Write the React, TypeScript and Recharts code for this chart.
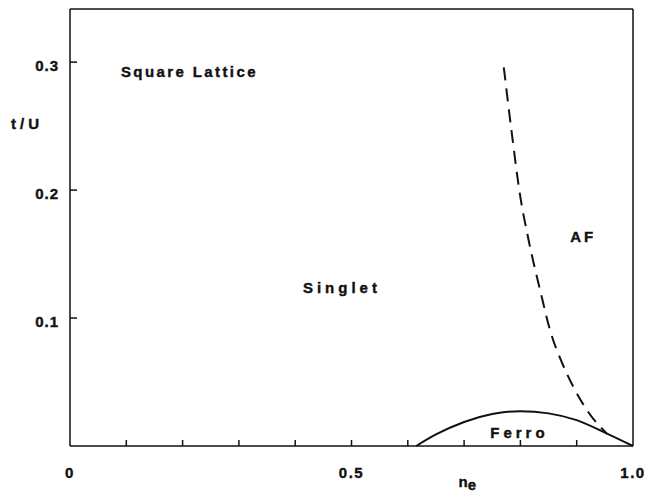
import React from 'react';
import { LineChart, Line, XAxis, YAxis, ReferenceDot } from 'recharts';

// antiferromagnetic boundary (dashed)
const afN = [0.7705, 0.786, 0.798, 0.815, 0.836, 0.853, 0.874, 0.8955, 0.923, 0.954];
const afT = [0.2958, 0.24, 0.2, 0.16, 0.12, 0.09, 0.065, 0.045, 0.025, 0.0095];

// ferromagnetic dome (solid)
const ferroN = [0.615, 0.65, 0.7, 0.75, 0.8, 0.85, 0.9, 0.95, 1.0];
const ferroT = [0, 0.009, 0.0188, 0.025, 0.0272, 0.0255, 0.0202, 0.0105, 0];

const xTicks = [0, 0.1, 0.2, 0.3, 0.4, 0.5, 0.6, 0.7, 0.8, 0.9, 1.0];
const xLabels: Record<string, string> = { '0': '0', '0.5': '0.5', '1': '1.0' };
const yTicks = [0.1, 0.2, 0.3];

const regions = [
  { text: 'Square Lattice', n: 0.21, t: 0.2927, spacing: 2.4 },
  { text: 'Singlet', n: 0.4794, t: 0.1238, spacing: 4 },
  { text: 'AF', n: 0.909, t: 0.1637, spacing: 3 },
  { text: 'Ferro', n: 0.7947, t: 0.0107, spacing: 4 },
];

const afData = afN.map((n, i) => ({ n, t: afT[i] }));
const ferroData = ferroN.map((n, i) => ({ n, t: ferroT[i] }));

const FONT = '"Liberation Sans", Arial, sans-serif';
const INK = '#111';

// heavy bold lettering used for every label
const textStyle = {
  fontFamily: FONT,
  fontWeight: 'bold' as const,
  fontSize: 15,
  fill: INK,
  stroke: INK,
  strokeWidth: 0.4,
};

const isEdge = (v: number) => v === 0 || v === 1;

const BottomTick = (props: any) => {
  const { x, y, payload } = props;
  const label = xLabels[String(payload.value)];
  return (
    <g>
      {!isEdge(payload.value) && (
        <line x1={x} x2={x} y1={y} y2={y - 6} stroke={INK} strokeWidth={1.5} />
      )}
      {label && (
        <text x={x} y={y + 31.5} textAnchor="middle" {...textStyle} style={{ letterSpacing: '1.5px' }}>
          {label}
        </text>
      )}
    </g>
  );
};

const TopTick = (props: any) => {
  const { x, y, payload } = props;
  if (isEdge(payload.value)) return <g />;
  return <line x1={x} x2={x} y1={y} y2={y + 6} stroke={INK} strokeWidth={1.5} />;
};

const LeftTick = (props: any) => {
  const { x, y, payload } = props;
  return (
    <g>
      <line x1={x} x2={x + 7} y1={y} y2={y} stroke={INK} strokeWidth={1.5} />
      <text x={x - 11} y={y + 9} textAnchor="end" {...textStyle} style={{ letterSpacing: '1px' }}>
        {payload.value.toFixed(1)}
      </text>
    </g>
  );
};

const RightTick = (props: any) => {
  const { x, y } = props;
  return <line x1={x} x2={x - 6} y1={y} y2={y} stroke={INK} strokeWidth={1.5} />;
};

export default function App() {
  return (
    <div style={{ position: 'absolute', left: 0, top: 0, background: '#fff' }}>
      <LineChart width={645} height={496} margin={{ top: 8, right: 11, bottom: 49, left: 69 }}>
        <XAxis
          dataKey="n"
          type="number"
          domain={[0, 1]}
          ticks={xTicks}
          height={1}
          tickSize={0}
          tickMargin={0}
          tickLine={false}
          tick={<BottomTick />}
          axisLine={{ stroke: INK, strokeWidth: 1.5 }}
          label={{
            content: (p: any) => (
              <text x={p.viewBox.x + p.viewBox.width * 0.69} y={p.viewBox.y + 41} {...textStyle}>
                n<tspan dy={3}>e</tspan>
              </text>
            ),
          }}
        />
        <XAxis
          xAxisId="top"
          orientation="top"
          type="number"
          domain={[0, 1]}
          ticks={xTicks}
          height={1}
          tickSize={0}
          tickMargin={0}
          tickLine={false}
          tick={<TopTick />}
          axisLine={{ stroke: INK, strokeWidth: 1.5 }}
        />
        <YAxis
          type="number"
          domain={[0, 0.3415]}
          ticks={yTicks}
          width={1}
          tickSize={0}
          tickMargin={0}
          tickLine={false}
          tick={<LeftTick />}
          axisLine={{ stroke: INK, strokeWidth: 1.5 }}
          label={{
            content: (p: any) => (
              <text x={p.viewBox.x - 58} y={p.viewBox.y + 120} {...textStyle}
                style={{ letterSpacing: '4px' }}>
                t/U
              </text>
            ),
          }}
        />
        <YAxis
          yAxisId="right"
          orientation="right"
          type="number"
          domain={[0, 0.3415]}
          ticks={yTicks}
          width={1}
          tickSize={0}
          tickMargin={0}
          tickLine={false}
          tick={<RightTick />}
          axisLine={{ stroke: INK, strokeWidth: 1.5 }}
        />
        <Line
          data={afData}
          dataKey="t"
          type="monotone"
          stroke={INK}
          strokeWidth={2}
          strokeDasharray="13 8"
          dot={false}
          isAnimationActive={false}
        />
        <Line
          data={ferroData}
          dataKey="t"
          type="monotone"
          stroke={INK}
          strokeWidth={2}
          dot={false}
          isAnimationActive={false}
        />
        {regions.map((r) => (
          <ReferenceDot
            key={r.text}
            x={r.n}
            y={r.t}
            r={0}
            fill="none"
            stroke="none"
            label={{
              content: (p: any) => (
                <text x={p.viewBox.x + p.viewBox.width / 2 + r.spacing / 2}
                  y={p.viewBox.y + p.viewBox.height / 2 + 5.5} textAnchor="middle"
                  {...textStyle} style={{ letterSpacing: `${r.spacing}px` }}>
                  {r.text}
                </text>
              ),
            }}
          />
        ))}
      </LineChart>
    </div>
  );
}
